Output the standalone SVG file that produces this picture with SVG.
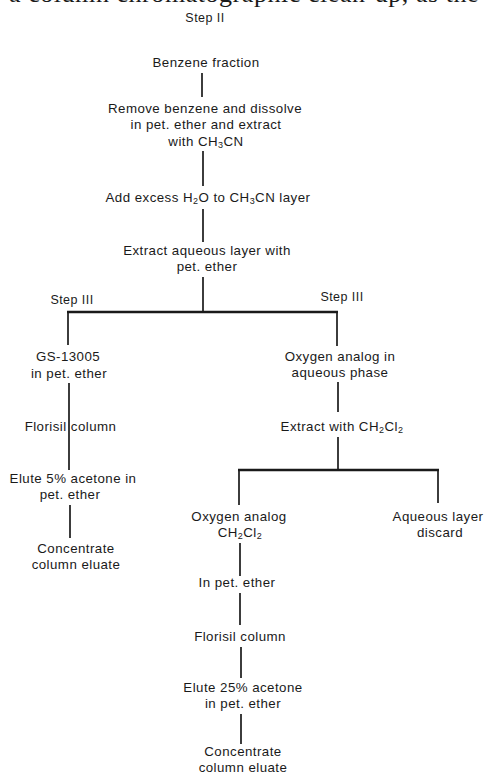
<svg xmlns="http://www.w3.org/2000/svg" width="489" height="780" viewBox="0 0 489 780">
<style>
text{font-family:"Liberation Sans",Arial,sans-serif;font-size:13.3px;fill:#1a1a1a;text-anchor:middle;letter-spacing:0.45px}
.hdr{font-size:12.5px}
.top{font-family:"Liberation Serif","Times New Roman",serif;font-size:26px;text-anchor:start;letter-spacing:0.55px}
.sub{font-size:9px}
.c line{stroke:#1a1a1a;stroke-width:1.7;fill:none}
.c .bar{stroke-width:2.4}
</style>
<rect width="489" height="780" fill="#fff"/>
<text class="top" x="9" y="2">a column chromatographic clean-up, as the</text>
<g id="connectors" class="c">
<line x1="202" y1="73" x2="202" y2="97"/>
<line x1="203" y1="151" x2="203" y2="186"/>
<line x1="203" y1="209" x2="203" y2="242"/>
<line x1="203" y1="277" x2="203" y2="312"/>
<line class="bar" x1="67" y1="312" x2="338" y2="312"/>
<line x1="68" y1="311" x2="68" y2="345"/>
<line x1="337" y1="311" x2="337" y2="346"/>
<line x1="69" y1="383" x2="69" y2="470"/>
<line x1="70" y1="505" x2="70" y2="538"/>
<line x1="338" y1="382" x2="338" y2="412"/>
<line x1="338" y1="437" x2="338" y2="470"/>
<line class="bar" x1="238" y1="470" x2="439" y2="470"/>
<line x1="239" y1="469" x2="239" y2="505"/>
<line x1="438" y1="469" x2="438" y2="503"/>
<line x1="240" y1="543" x2="240" y2="576"/>
<line x1="240" y1="593" x2="240" y2="625"/>
<line x1="241" y1="647" x2="241" y2="678"/>
<line x1="241" y1="714" x2="241" y2="744"/>
</g>
<g id="step2"><text class="hdr" x="205" y="22">Step II</text></g>
<g id="benzene"><text x="206" y="67">Benzene fraction</text></g>
<g id="remove"><text x="205" y="113">Remove benzene and dissolve</text><text x="206" y="129">in pet. ether and extract</text><text x="206" y="146">with CH<tspan class="sub" dy="2">3</tspan><tspan dy="-2">CN</tspan></text></g>
<g id="addwater"><text x="208" y="202">Add excess H<tspan class="sub" dy="2">2</tspan><tspan dy="-2">O to CH</tspan><tspan class="sub" dy="2">3</tspan><tspan dy="-2">CN layer</tspan></text></g>
<g id="extract"><text x="207" y="255">Extract aqueous layer with</text><text x="207" y="271">pet. ether</text></g>
<g id="step3left"><text class="hdr" x="72" y="304">Step III</text></g>
<g id="step3right"><text class="hdr" x="342" y="301">Step III</text></g>
<g id="gs13005"><text x="68" y="361">GS-13005</text><text x="69" y="378">in pet. ether</text></g>
<g id="florisil1"><text x="70.5" y="431">Florisil column</text></g>
<g id="elute5"><text x="73" y="483">Elute 5% acetone in</text><text x="70" y="499">pet. ether</text></g>
<g id="conc1"><text x="76" y="553">Concentrate</text><text x="76" y="569">column eluate</text></g>
<g id="oxyaq"><text x="340" y="361">Oxygen analog in</text><text x="340" y="377">aqueous phase</text></g>
<g id="extractch2cl2"><text x="342" y="431">Extract with CH<tspan class="sub" dy="2">2</tspan><tspan dy="-2">Cl</tspan><tspan class="sub" dy="2">2</tspan></text></g>
<g id="oxych2cl2"><text x="239" y="521">Oxygen analog</text><text x="240" y="537">CH<tspan class="sub" dy="2">2</tspan><tspan dy="-2">Cl</tspan><tspan class="sub" dy="2">2</tspan></text></g>
<g id="aqdiscard"><text x="438" y="521">Aqueous layer</text><text x="440" y="537">discard</text></g>
<g id="inpet2"><text x="237" y="587">In pet. ether</text></g>
<g id="florisil2"><text x="240" y="641">Florisil column</text></g>
<g id="elute25"><text x="243" y="692">Elute 25% acetone</text><text x="243" y="708">in pet. ether</text></g>
<g id="conc2"><text x="243" y="756">Concentrate</text><text x="243" y="772">column eluate</text></g>
</svg>
